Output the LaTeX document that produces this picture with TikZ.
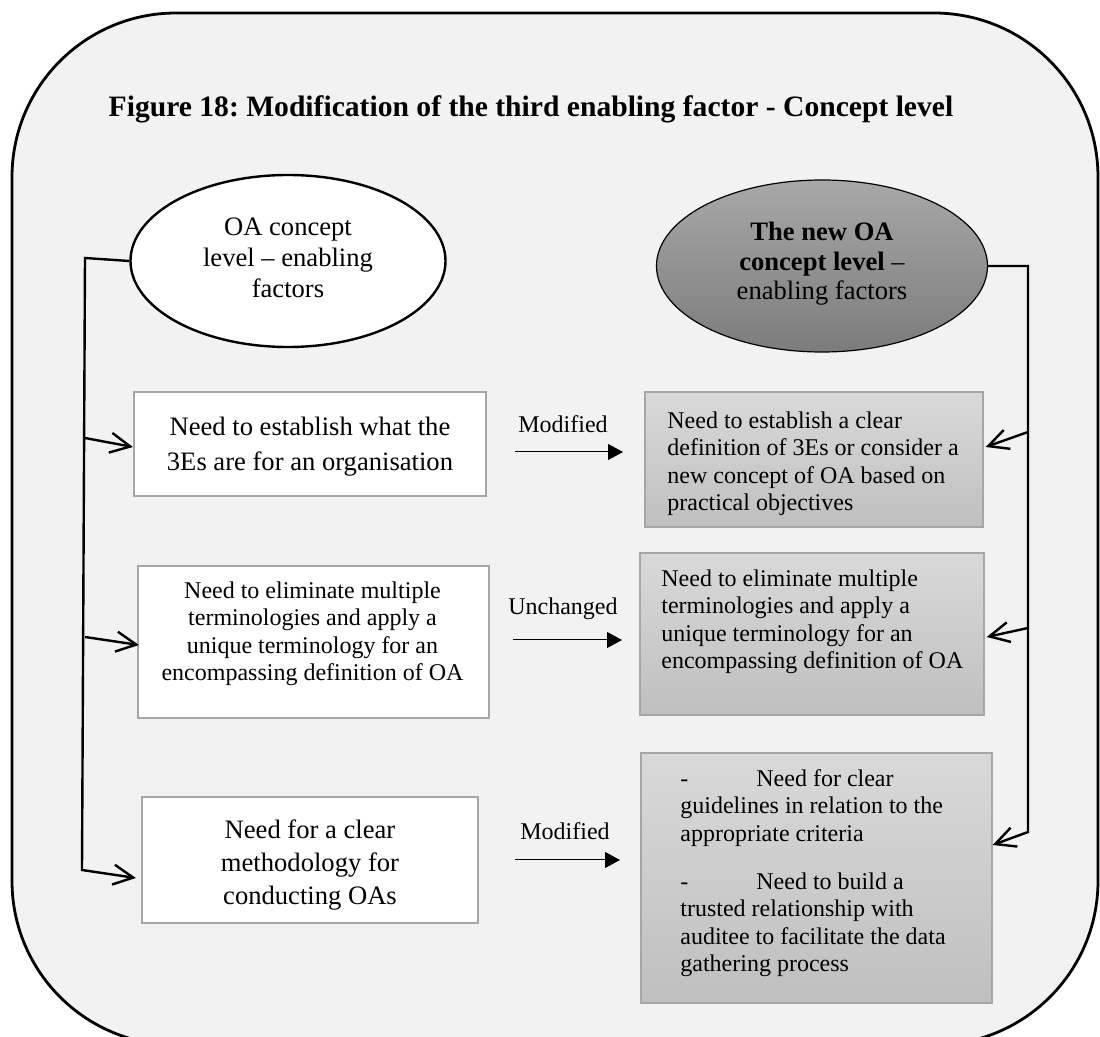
\documentclass[tikz,border=0pt]{standalone}
\usepackage{fontspec}
\setmainfont{Liberation Serif}
\usetikzlibrary{arrows.meta,shapes.geometric}
\frenchspacing

\definecolor{panel}{HTML}{F2F2F2}
\definecolor{boxedge}{HTML}{A6A6A6}
\definecolor{greytop}{HTML}{D9D9D9}
\definecolor{greybot}{HTML}{BFBFBF}
\definecolor{ovaltop}{HTML}{A8A8A8}
\definecolor{ovalbot}{HTML}{7C7C7C}

\begin{document}
\begin{tikzpicture}[x=0.5pt,y=-0.5pt,
  plainbox/.style={draw=boxedge, line width=1.1pt, fill=white, inner sep=0pt},
  greybox/.style={draw=boxedge, line width=0.7pt, top color=greytop, bottom color=greybot, inner sep=0pt},
  whiteoval/.style={ellipse, draw=black, line width=1.2pt, fill=white, inner sep=0pt},
  darkoval/.style={ellipse, draw=black, line width=0.6pt, top color=ovaltop, bottom color=ovalbot, inner sep=0pt},
  bigtext/.style={font=\fontsize{13.3}{17.5}\selectfont, inner sep=0pt, align=center, anchor=north},
  smalltext/.style={font=\fontsize{12}{13.8}\selectfont, inner sep=0pt},
  link/.style={line width=1.2pt},
  openhead/.style={-{Straight Barb[length=10pt,width=10pt,line width=1.2pt]}},
  flow/.style={line width=0.5pt, -{Triangle[length=7.5pt,width=8pt]}},
  flowlabel/.style={font=\fontsize{12}{13.8}\selectfont, inner sep=0pt, anchor=base}
]
\useasboundingbox (0,0) rectangle (1100,1037);

% rounded panel behind everything, running off the lower edge
\begin{scope}
  \clip (0,0) rectangle (1100,1037);
  \draw[line width=1.4pt, fill=panel, rounded corners=82pt] (12,13) rectangle (1098,1045);
\end{scope}

% title
\node[font=\bfseries\fontsize{14.8}{17}\selectfont, inner sep=0pt, anchor=base] (title) at (531,117)
  {Figure 18: Modification of the third enabling factor - Concept level};

% ovals
\node[whiteoval, minimum width=157.5pt, minimum height=86pt] (oldoval) at (288,261) {};
\node[bigtext, font=\fontsize{13.3}{15.5}\selectfont] (oldovaltext) at (288,217)
  {OA concept\\level -- enabling\\factors};

\node[darkoval, minimum width=165.5pt, minimum height=86pt] (newoval) at (822,266) {};
\node[bigtext, font=\fontsize{13.3}{14.75}\selectfont] (newovaltext) at (822,222)
  {\textbf{The new OA}\\\textbf{concept level} --\\enabling factors};

% left column
\node[plainbox, minimum width=176pt, minimum height=52pt] (old1) at (310,444) {};
\node[bigtext] (old1text) at (310,417)
  {Need to establish what the\\3Es are for an organisation};

\node[plainbox, minimum width=175.5pt, minimum height=76pt] (old2) at (313.5,642) {};
\node[smalltext, align=center, anchor=north] (old2text) at (312.5,581)
  {Need to eliminate multiple\\terminologies and apply a\\unique terminology for an\\encompassing definition of OA};

\node[plainbox, minimum width=168pt, minimum height=63pt] (old3) at (310,860) {};
\node[bigtext, font=\fontsize{13.3}{16.5}\selectfont] (old3text) at (310,819)
  {Need for a clear\\methodology for\\conducting OAs};

% right column
\node[greybox, minimum width=169pt, minimum height=67.5pt] (new1) at (814,459.5) {};
\node[smalltext, align=left, anchor=north west] (new1text) at (667,411)
  {Need to establish a clear\\definition of 3Es or consider a\\new concept of OA based on\\practical objectives};

\node[greybox, minimum width=172pt, minimum height=81pt] (new2) at (812,634) {};
\node[smalltext, align=left, anchor=north west] (new2text) at (661,569)
  {Need to eliminate multiple\\terminologies and apply a\\unique terminology for an\\encompassing definition of OA};

\node[greybox, minimum width=175.5pt, minimum height=125pt] (new3) at (816.5,878) {};
\node[smalltext, align=left, anchor=north west] (new3text) at (680,769)
  {\makebox[38pt][l]{-}Need for clear\\guidelines in relation to the\\appropriate criteria\\[10pt]
   \makebox[38pt][l]{-}Need to build a\\trusted relationship with\\auditee to facilitate the data\\gathering process};

% left bracket feeding the current factors
\coordinate (lefttop) at (85,258);
\coordinate (leftbot) at (82,870);
\coordinate (lefttap1) at (85,438);
\coordinate (lefttap2) at (85,637);
\draw[link, openhead] (oldoval.west) -- (lefttop) -- (leftbot) -- ([xshift=-2.5pt,yshift=-9pt]old3.west);
\draw[link, openhead] (lefttap1) -- ([yshift=-1.5pt]old1.west);
\draw[link, openhead] (lefttap2) -- ([xshift=1pt,yshift=-1.5pt]old2.west);

% right bracket feeding the revised factors
\coordinate (righttop) at (1028,266);
\coordinate (rightbot) at (1028,832);
\coordinate (righttap1) at (1028,432);
\coordinate (righttap2) at (1028,628);
\draw[link, openhead] (newoval.east) -- (righttop) -- (rightbot) -- ([yshift=16.5pt]new3.east);
\draw[link, openhead] (righttap1) -- ([xshift=1pt,yshift=6.25pt]new1.east);
\draw[link, openhead] (righttap2) -- ([xshift=1pt,yshift=-1.5pt]new2.east);

% transitions between the columns
\coordinate (go1) at (515,452);
\coordinate (to1) at (623,452);
\coordinate (go2) at (513,640);
\coordinate (to2) at (622,640);
\coordinate (go3) at (515,860);
\coordinate (to3) at (620,860);
\draw[flow] (go1) -- (to1);
\draw[flow] (go2) -- (to2);
\draw[flow] (go3) -- (to3);
\node[flowlabel] (lab1) at (563,433) {Modified};
\node[flowlabel] (lab2) at (563,615) {Unchanged};
\node[flowlabel] (lab3) at (565,840) {Modified};
\end{tikzpicture}
\end{document}
